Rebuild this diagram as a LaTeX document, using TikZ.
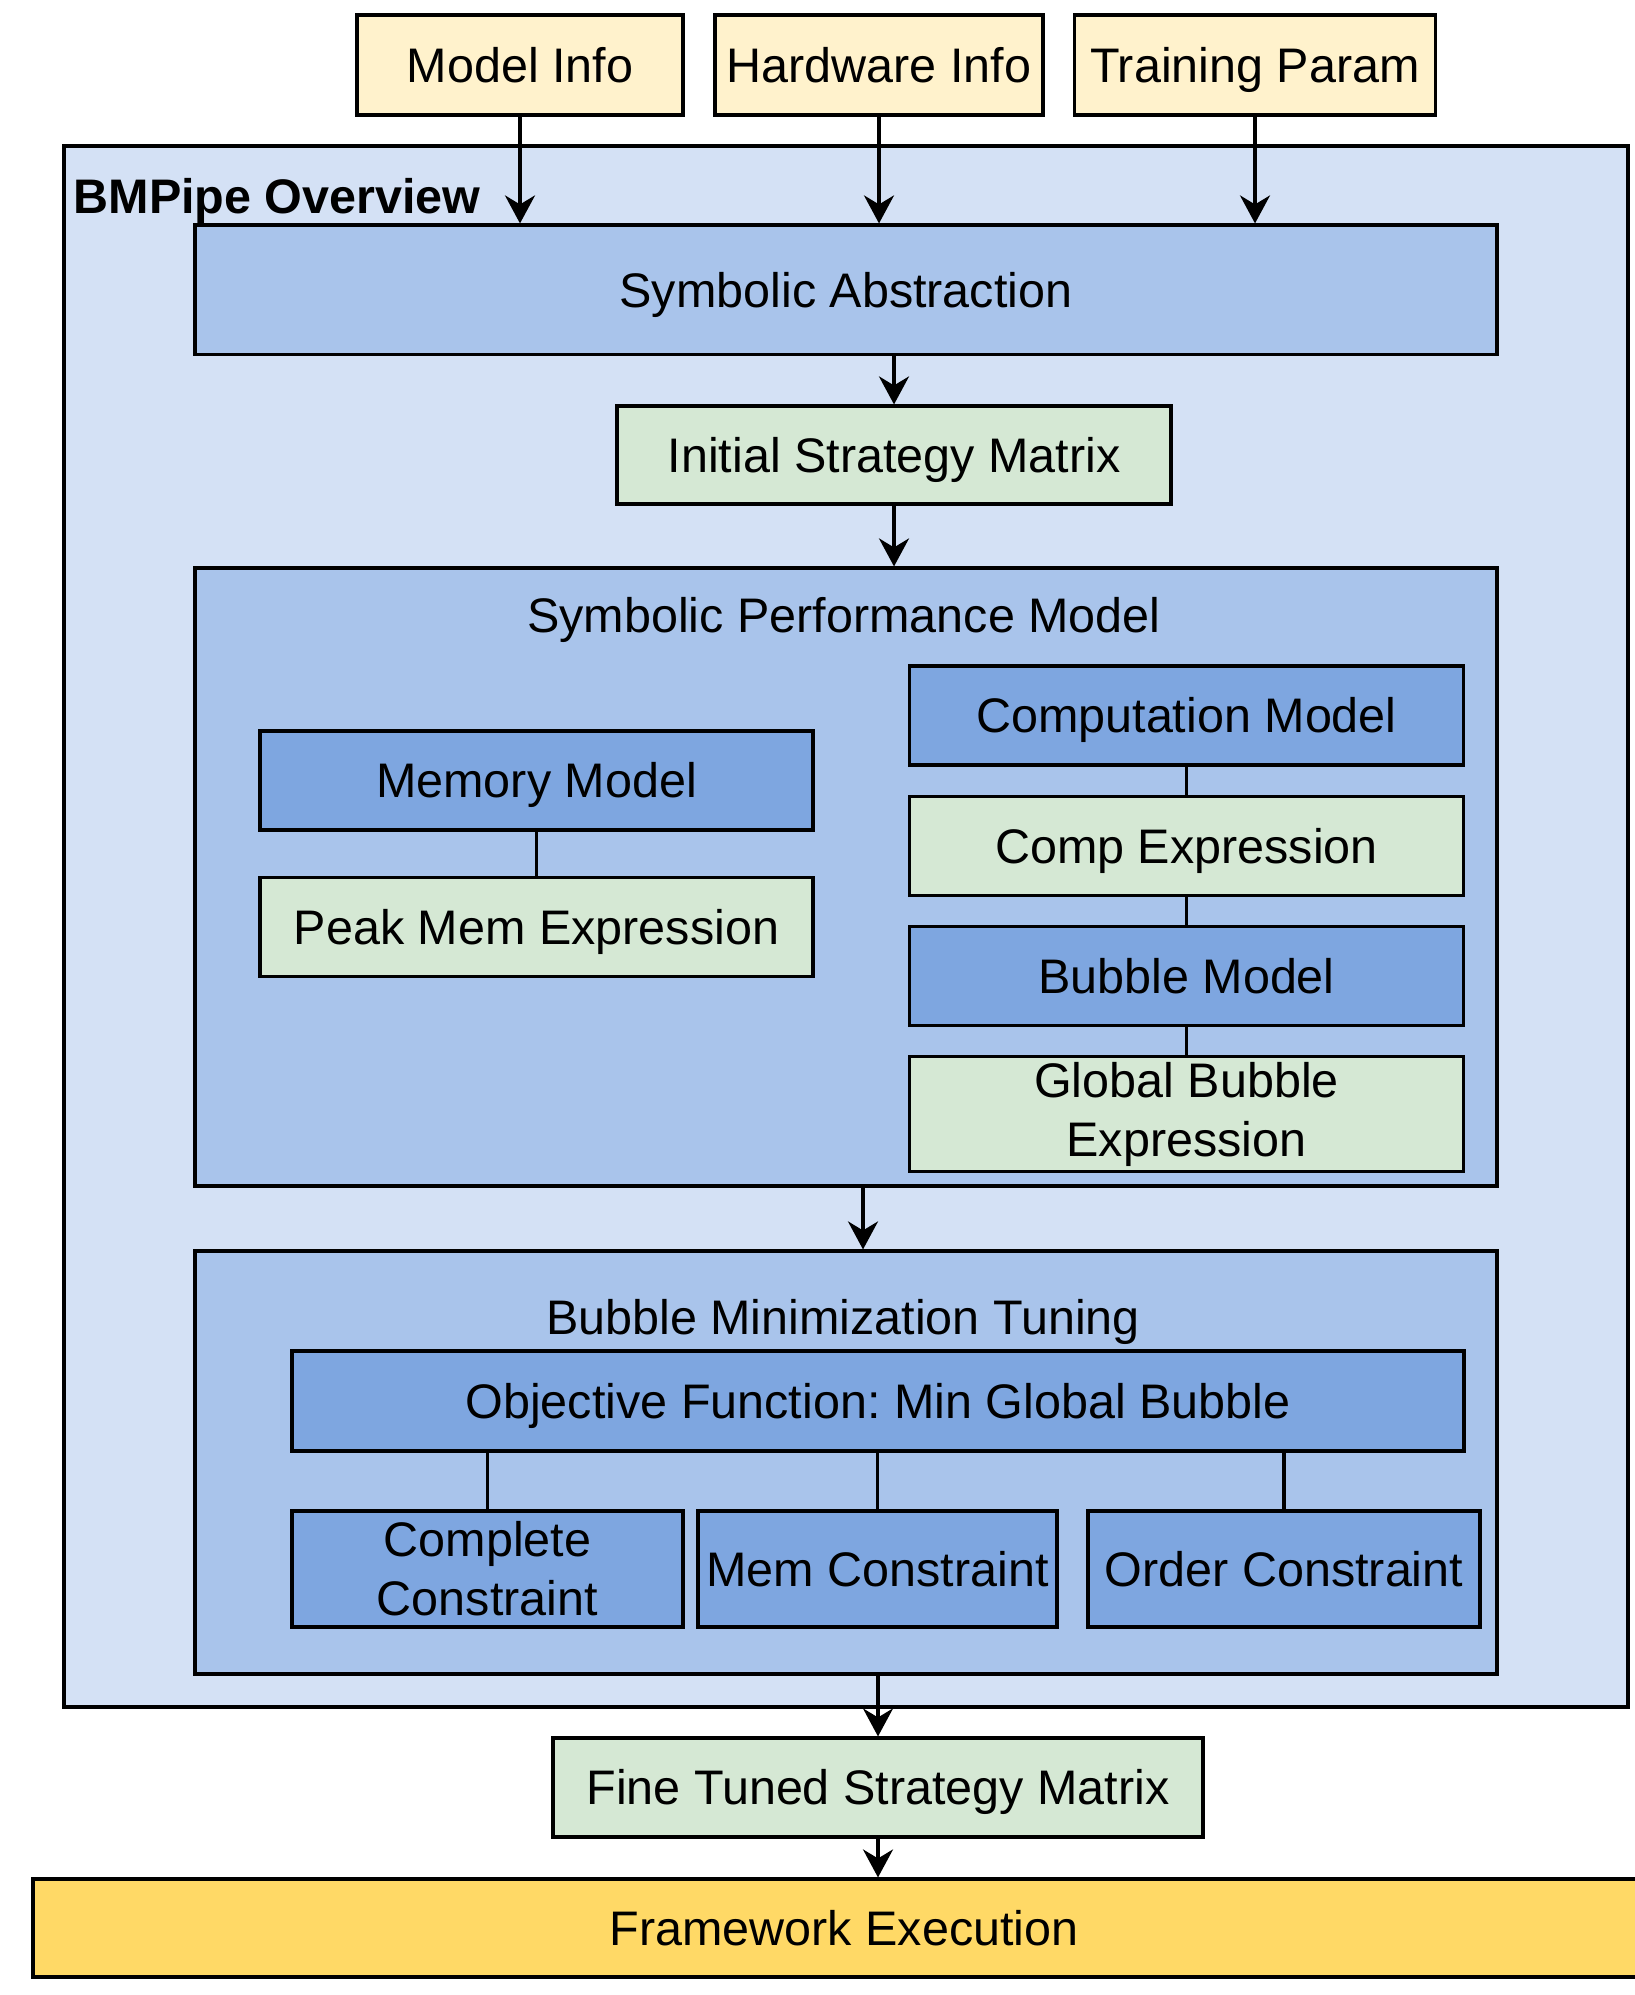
\documentclass[tikz,border=0pt]{standalone}
\usepackage{fontspec}
\setmainfont{Liberation Sans}
\usetikzlibrary{arrows.meta, positioning}

\definecolor{inyellow}{HTML}{FFF2CC}
\definecolor{outerblue}{HTML}{D4E1F5}
\definecolor{midblue}{HTML}{A9C4EB}
\definecolor{darkblue}{HTML}{7EA6E0}
\definecolor{exprgreen}{HTML}{D5E8D4}
\definecolor{execyellow}{HTML}{FFD966}

\frenchspacing

\begin{document}
\begin{tikzpicture}[
    font=\fontsize{13.8}{16.8}\selectfont,
    line width=0.9pt,
    box/.style={
        draw, inner sep=0pt,
        text height=0.45cm, text depth=0.103cm,
        minimum height=0.99cm
    },
    twoline/.style={align=center, text height=, text depth=},
    input/.style={box, fill=inyellow, minimum height=1.0cm},
    group/.style={box, fill=midblue},
    model/.style={box, fill=darkblue, minimum width=5.54cm},
    expr/.style={box, fill=exprgreen, minimum width=5.54cm},
    cons/.style={box, fill=darkblue, minimum height=1.16cm},
    arrow/.style={-{Stealth[length=0.28cm, width=0.3cm, inset=0.09cm]}},
    title/.style={anchor=base, inner sep=0pt}
]
\useasboundingbox (0,0) rectangle (16.35,-19.95);

% ===== INPUTS =====
\node[input, minimum width=3.26cm] (minfo) at (5.20,-0.65) {Model Info};
\node[input, minimum width=3.28cm] (hwinfo) at (8.79,-0.65) {Hardware Info};
\node[input, minimum width=3.61cm] (tparam) at (12.55,-0.65) {Training Param};

% ===== OVERVIEW FRAME =====
\node[box, fill=outerblue, minimum width=15.64cm, minimum height=15.61cm]
  (overview) at (8.46,-9.265) {};
\node[title, anchor=base west, font=\fontsize{13.8}{16.8}\selectfont\bfseries]
  (ovtitle) at (0.72,-2.13) {BMPipe Overview};

\node[group, minimum width=13.02cm, minimum height=1.295cm]
  (abstr) at (8.46,-2.8975) {Symbolic Abstraction};

\node[expr, minimum width=5.54cm, minimum height=0.98cm]
  (initmat) at (8.94,-4.55) {Initial Strategy Matrix};

% ===== SYMBOLIC PERFORMANCE MODEL =====
\node[group, minimum width=13.02cm, minimum height=6.18cm]
  (perf) at (8.46,-8.77) {};
\node[title] (perftitle) at (8.44,-6.32) {Symbolic Performance Model};

\node[model, minimum width=5.53cm] (memmod) at (5.365,-7.805) {Memory Model};
\node[expr, minimum width=5.53cm, below=0.44cm of memmod] (peakmem)
{Peak Mem Expression};

\node[model] (compmod) at (11.865,-7.155) {Computation Model};
\node[expr, below=0.28cm of compmod] (compexpr) {Comp Expression};
\node[model, below=0.28cm of compexpr] (bubmod) {Bubble Model};
\node[expr, twoline, minimum height=1.15cm, below=0.28cm of bubmod] (globbub)
{Global Bubble\\Expression};

% ===== BUBBLE MINIMIZATION TUNING =====
\node[group, minimum width=13.02cm, minimum height=4.23cm]
  (tuning) at (8.46,-14.625) {};
\node[title] (tuntitle) at (8.43,-13.34) {Bubble Minimization Tuning};

\node[box, fill=darkblue, minimum width=11.72cm, minimum height=1.0cm]
  (objfun) at (8.78,-14.01) {Objective Function: Min Global Bubble};

\node[cons, twoline, minimum width=3.91cm] (compcons) at (4.875,-15.69)
{Complete\\Constraint};
\node[cons, minimum width=3.59cm] (memcons) at (8.775,-15.69)
{Mem Constraint};
\node[cons, minimum width=3.92cm] (ordcons) at (12.84,-15.69)
{Order Constraint};

% ===== OUTPUT =====
\node[expr, minimum width=6.50cm] (finemat) at (8.78,-17.875)
{Fine Tuned Strategy Matrix};
\node[box, fill=execyellow, minimum width=16.22cm, minimum height=0.98cm]
  (frame) at (8.44,-19.28) {Framework Execution};

% ===== ARROWS =====
\draw[arrow] (minfo) -- (minfo |- abstr.north);
\draw[arrow] (hwinfo) -- (hwinfo |- abstr.north);
\draw[arrow] (tparam) -- (tparam |- abstr.north);

\draw[arrow] (initmat |- abstr.south) -- (initmat);
\draw[arrow] (initmat) -- (initmat |- perf.north);
\draw[arrow] ([xshift=0.17cm]perf.south) -- ([xshift=0.17cm]tuning.north);
\draw[arrow] (finemat |- tuning.south) -- (finemat);
\draw[arrow] (finemat) -- (finemat |- frame.north);

% ===== PLAIN LINKS =====
\draw (memmod) -- (peakmem);
\draw (compmod) -- (compexpr);
\draw (compexpr) -- (bubmod);
\draw (bubmod) -- (globbub);

\draw (compcons) -- (compcons |- objfun.south);
\draw (memcons) -- (memcons |- objfun.south);
\draw (ordcons) -- (ordcons |- objfun.south);

\end{tikzpicture}
\end{document}
